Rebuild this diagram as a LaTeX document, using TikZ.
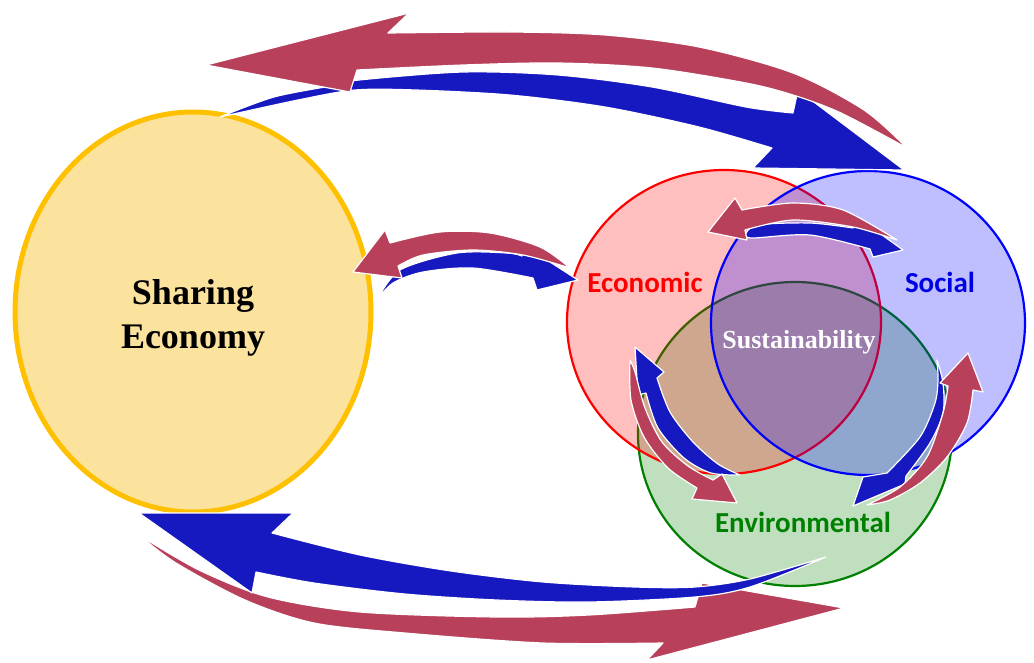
\documentclass[tikz,border=0pt]{standalone}
\usepackage{fontspec}
\setmainfont{Liberation Serif}
\newfontfamily\carlitofont{Carlito}
\usetikzlibrary{shapes.geometric}
\definecolor{arrred}{RGB}{184,64,90}
\definecolor{arrblue}{RGB}{22,24,192}
\definecolor{sefill}{RGB}{251,226,157}
\definecolor{seborder}{RGB}{255,192,0}
\definecolor{envgreen}{RGB}{0,128,0}
\tikzset{
  redarrow/.style={fill=arrred, draw=white, line width=1.2pt, line join=round},
  bluearrow/.style={fill=arrblue, draw=white, line width=1.2pt, line join=round},
  venn/.style={ellipse, inner sep=0pt, minimum width=314pt, minimum height=304pt, line width=2.2pt, fill opacity=0.25},
  vennlabel/.style={font=\carlitofont\bfseries\fontsize{29}{31}\selectfont},
}
\begin{document}
\begin{tikzpicture}[x=1pt,y=-1pt]
\useasboundingbox (0,0) rectangle (1034,662);
% Sharing economy
\node[ellipse, draw=seborder, fill=sefill, line width=5pt, minimum width=356pt, minimum height=400pt, inner sep=0pt] (se) at (193,312) {};
\node[font=\bfseries\fontsize{36}{44}\selectfont, align=center] (setext) at (193,318) {Sharing\\Economy};
% Venn circles
\node[venn, draw=envgreen, fill=envgreen] (env) at (795,434) {};
\node[venn, draw=red, fill=red] (eco) at (724,322) {};
\node[venn, draw=blue, fill=blue] (soc) at (868,323) {};
\node[vennlabel, text=red] (ecotext) at (645,282) {Economic};
\node[vennlabel, text=blue!90!black] (soctext) at (940,282) {Social};
\node[vennlabel, text=envgreen] (envtext) at (803,522) {Environmental};
\node[font=\bfseries\fontsize{26}{28}\selectfont, text=white] (sustext) at (799,342) {Sustainability};
% top pair
\path[bluearrow] (220,117) -- plot[smooth] coordinates {(220,117) (274,97) (336,85) (359,80) (463,72) (558,75) (652,87) (746,107) (793,113)} -- (798,90) -- (904,170) -- (753,168) -- plot[smooth] coordinates {(772,148) (699,127) (605,107) (510,95) (416,90) (355,90) (298,100) (220,117)} -- cycle;
\path[redarrow] (206,65) -- (409,13) -- plot[smooth] coordinates {(388,33) (510,32) (605,35) (699,47) (793,73) (864,110) (907,148)} -- plot[smooth] coordinates {(907,148) (841,113) (793,95) (746,83) (652,68) (558,63) (463,65) (357,70)} -- (350,92) -- cycle;
% middle pair
\path[bluearrow] (377,300) -- plot[smooth] coordinates {(377,300) (400,270) (457,253) (507,253) (522,256)} -- (522,244) -- (578,280) -- (537,290) -- plot[smooth] coordinates {(533,278) (473,268) (423,272) (393,283) (377,300)} -- cycle;
\path[redarrow] (353,272) -- (385,230) -- plot[smooth] coordinates {(390,243) (440,232) (490,233) (540,247) (570,268)} -- plot[smooth] coordinates {(570,268) (523,255) (473,250) (423,255) (398,266)} -- (402,278) -- cycle;
% Venn top pair
\path[bluearrow] (745,235) -- plot[smooth] coordinates {(745,235) (757,225) (810,223) (853,228)} -- (857,217) -- (903,250) -- (873,257) -- plot[smooth] coordinates {(870,249) (810,235) (753,238) (745,235)} -- cycle;
\path[redarrow] (708,232) -- (735,198) -- plot[smooth] coordinates {(742,210) (793,203) (843,210) (897,240)} -- plot[smooth] coordinates {(897,240) (853,227) (793,220) (745,230)} -- (747,240) -- cycle;
% Venn left pair
\path[bluearrow] (635,347) -- (664,372) -- plot[smooth] coordinates {(657,378) (670,412) (693,442) (718,464) (740,475)} -- plot[smooth] coordinates {(740,475) (711,473) (684,458) (658,428) (646,393)} -- (638,395) -- cycle;
\path[redarrow] (630,360) -- plot[smooth] coordinates {(630,360) (631,400) (644,437) (668,468) (697,488)} -- (692,499) -- (737,503) -- (722,474) -- plot[smooth] coordinates {(713,480) (688,466) (662,442) (645,408) (635,372) (630,360)} -- cycle;
% Venn right pair
\path[bluearrow] (937,360) -- plot[smooth] coordinates {(937,360) (943,383) (943,413) (930,443) (906,476)} -- (905,484) -- (853,506) -- (863,477) -- plot[smooth] coordinates {(887,473) (920,437) (935,403) (938,380) (937,360)} -- cycle;
\path[redarrow] (867,505) -- plot[smooth] coordinates {(867,505) (900,487) (927,457) (943,413) (948,386)} -- (940,383) -- (968,353) -- (983,392) -- plot[smooth] coordinates {(973,390) (967,423) (947,457) (920,483) (890,500) (867,505)} -- cycle;
% bottom pair
\path[redarrow] (139,535) -- plot[smooth] coordinates {(139,535) (199,570) (268,597) (360,612) (497,617) (589,615) (695,607)} -- (702,583) -- (844,608) -- (647,660) -- plot[smooth] coordinates {(663,643) (543,643) (405,633) (314,623) (245,600) (176,563) (139,535)} -- cycle;
\path[bluearrow] (139,513) -- (293,513) -- plot[smooth] coordinates {(272,533) (360,555) (451,571) (543,582) (635,587) (695,587) (750,579) (826,557)} -- plot[smooth] coordinates {(826,557) (750,587) (695,597) (589,602) (497,600) (405,594) (314,583) (256,572)} -- (252,593) -- cycle;
\end{tikzpicture}
\end{document}
